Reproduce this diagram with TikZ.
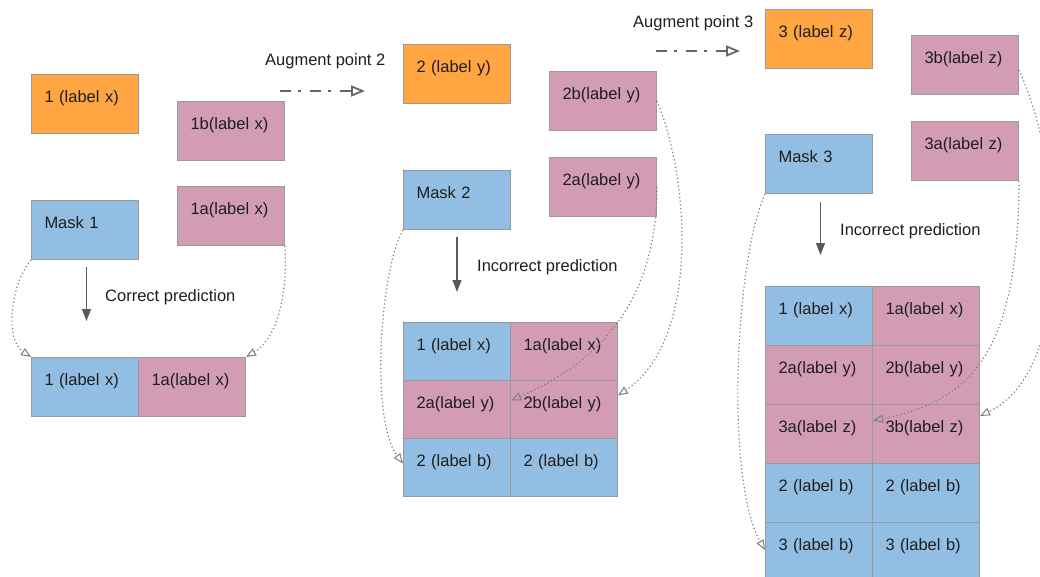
\documentclass[tikz,border=0pt]{standalone}
\usepackage{fontspec}
\setmainfont{Liberation Sans}
\usetikzlibrary{arrows.meta,calc}
\definecolor{orng}{HTML}{FFA542}
\definecolor{pnk}{HTML}{D39CB5}
\definecolor{blu}{HTML}{93BEE3}
\definecolor{bordergray}{HTML}{9A9A9A}
\definecolor{txt}{HTML}{1E1E1E}
\definecolor{arrgray}{HTML}{5A5A5A}
\definecolor{auggray}{HTML}{666666}
\definecolor{dotgray}{HTML}{7E7E7E}
\begin{document}
\begin{tikzpicture}[x=1pt,y=-1pt,
  box/.style={draw=bordergray, line width=1pt, minimum width=107pt, minimum height=59pt,
    inner xsep=0pt, inner ysep=0pt, text width=81pt, align=left,
    text height=12pt, text depth=15pt, font=\fontsize{16.5}{19}\selectfont,
    anchor=north west, text=txt},
  rowb/.style={minimum height=58pt},
  lbl/.style={anchor=west, inner sep=0pt, font=\fontsize{16.5}{19}\selectfont, text=txt},
  downarr/.style={draw=arrgray, line width=1.3pt, -{Triangle[length=12pt,width=9pt]}},
  augarr/.style={draw=auggray, line width=2.2pt, dash pattern=on 11pt off 7pt on 3pt off 9pt,
    -{Triangle[open,length=14pt,width=11pt,line width=1.8pt]}},
  dotarr/.style={draw=dotgray, line width=1.2pt, dash pattern=on 1.2pt off 2.6pt,
    -{Triangle[open,length=10pt,width=8pt,line width=1pt]}}
]
\useasboundingbox (0,0) rectangle (1040,577);
\clip (0,0) rectangle (1040,577);

% ---------- group 1 ----------
\node[box,fill=orng] (p1) at (31,74) {1 (label x)};
\node[box,fill=pnk] (p1b) at (177,101) {1b(label x)};
\node[box,fill=pnk] (p1a) at (177,186) {1a(label x)};
\node[box,fill=blu] (m1) at (31,200) {Mask 1};
\node[box,fill=blu] (g1a) at (31,357) {1 (label x)};
\node[box,fill=pnk] (g1b) at (138,357) {1a(label x)};
\node[lbl] (cp) at (105,297) {Correct prediction};

% ---------- group 2 ----------
\node[lbl] (ap2) at (265,61) {Augment point 2};
\node[box,fill=orng] (p2) at (403,44) {2 (label y)};
\node[box,fill=pnk] (p2b) at (549,71) {2b(label y)};
\node[box,fill=pnk] (p2a) at (549,157) {2a(label y)};
\node[box,fill=blu] (m2) at (403,170) {Mask 2};
\node[lbl] (ip2) at (477,267) {Incorrect prediction};
\node[box,rowb,fill=blu] (g2a1) at (403,322) {1 (label x)};
\node[box,rowb,fill=pnk] (g2a2) at (510,322) {1a(label x)};
\node[box,rowb,fill=pnk] (g2b1) at (403,380) {2a(label y)};
\node[box,rowb,fill=pnk] (g2b2) at (510,380) {2b(label y)};
\node[box,rowb,fill=blu] (g2c1) at (403,438) {2 (label b)};
\node[box,rowb,fill=blu] (g2c2) at (510,438) {2 (label b)};

% ---------- group 3 ----------
\node[lbl] (ap3) at (633,23) {Augment point 3};
\node[box,fill=orng] (p3) at (765,9) {3 (label z)};
\node[box,fill=pnk] (p3b) at (911,35) {3b(label z)};
\node[box,fill=pnk] (p3a) at (911,121) {3a(label z)};
\node[box,fill=blu] (m3) at (765,134) {Mask 3};
\node[lbl] (ip3) at (840,231) {Incorrect prediction};
\node[box,fill=blu] (g3a1) at (765,286) {1 (label x)};
\node[box,fill=pnk] (g3a2) at (872,286) {1a(label x)};
\node[box,fill=pnk] (g3b1) at (765,345) {2a(label y)};
\node[box,fill=pnk] (g3b2) at (872,345) {2b(label y)};
\node[box,fill=pnk] (g3c1) at (765,404) {3a(label z)};
\node[box,fill=pnk] (g3c2) at (872,404) {3b(label z)};
\node[box,fill=blu] (g3d1) at (765,463) {2 (label b)};
\node[box,fill=blu] (g3d2) at (872,463) {2 (label b)};
\node[box,fill=blu] (g3e1) at (765,522) {3 (label b)};
\node[box,fill=blu] (g3e2) at (872,522) {3 (label b)};

% ---------- augment arrows ----------
\coordinate (a2s) at (280,91);
\coordinate (a2e) at (365,91);
\draw[augarr] (a2s) -- (a2e);
\coordinate (a3s) at (656,51);
\coordinate (a3e) at (740,51);
\draw[augarr] (a3s) -- (a3e);

% ---------- prediction arrows ----------
\draw[downarr, shorten <=7pt, shorten >=36pt] ([xshift=1.5pt]m1.south) -- ([xshift=1.5pt]g1a.north);
\draw[downarr, shorten <=7pt, shorten >=30pt] (m2.south) -- (g2a1.north);
\draw[downarr, shorten <=8pt, shorten >=31pt] ([xshift=1.5pt]m3.south) -- ([xshift=1.5pt]g3a1.north);

% ---------- dotted connectors ----------
\draw[dotarr] (m1.south west) .. controls (10,285) and (5,340) .. (g1a.north west);
\draw[dotarr] (p1a.south east) .. controls (288,300) and (275,340) .. (g1b.north east);

\draw[dotarr] (m2.south west) .. controls (380,270) and (370,420) .. ([yshift=4pt]g2c1.west);
\draw[dotarr] (p2a.east) .. controls (657,300) and (600,362) .. ([yshift=9pt]g2b1.east);
\draw[dotarr] (p2b.east) .. controls (690,180) and (700,340) .. ([yshift=14pt]g2b2.east);

\draw[dotarr] (m3.south west) .. controls (735,260) and (725,480) .. ([yshift=2pt]g3e1.west);
\draw[dotarr] (p3a.south east) .. controls (1018,340) and (980,400) .. ([yshift=13.5pt]g3c1.east);
\draw[dotarr] ([yshift=-5pt]p3b.east) .. controls (1065,170) and (1075,370) .. ([yshift=18pt]g3c2.east);
\end{tikzpicture}
\end{document}
